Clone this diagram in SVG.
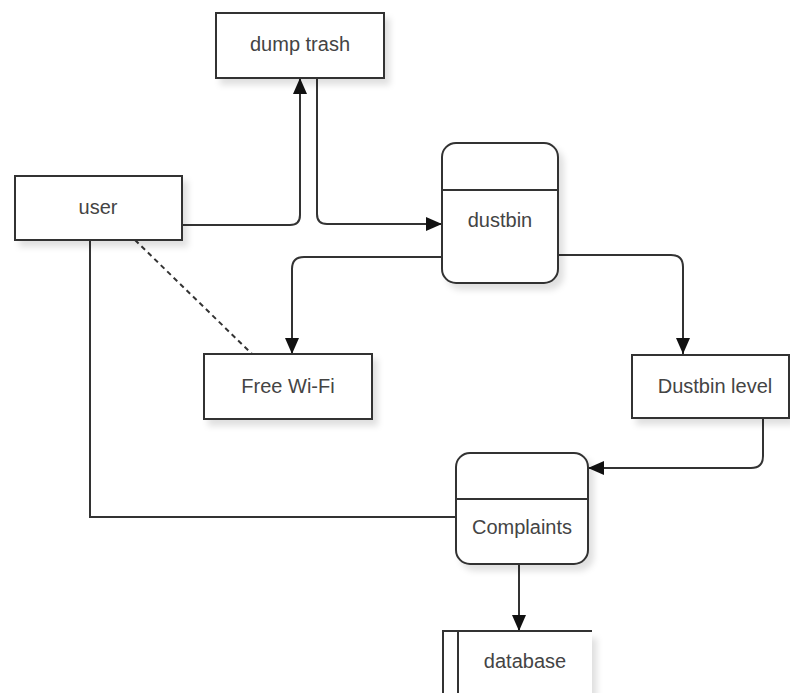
<svg xmlns="http://www.w3.org/2000/svg" width="790" height="693" viewBox="0 0 790 693">
<defs>
<filter id="sh" x="-10%" y="-10%" width="130%" height="140%">
<feDropShadow dx="5" dy="6" stdDeviation="3" flood-color="#000" flood-opacity="0.12"/>
</filter>
<marker id="arrB" viewBox="0 0 16 14" refX="16" refY="7" markerWidth="16" markerHeight="14" markerUnits="userSpaceOnUse" orient="auto">
<path d="M0,0 L16,7 L0,14 z" fill="#111"/>
</marker>
</defs>
<style>
.box{fill:#fff;stroke:#333;stroke-width:2;filter:url(#sh)}
.ln{fill:none;stroke:#333;stroke-width:2}
.conn{fill:none;stroke:#333;stroke-width:2}
.lbl{font-family:"Liberation Sans",Arial,sans-serif;font-size:20px;fill:#444;text-anchor:middle}
</style>
<rect width="790" height="693" fill="#fff"/>
<g id="connectors">
<path class="conn" d="M182,225 H290 Q300,225 300,215 V78" marker-end="url(#arrB)"/>
<path class="conn" d="M317,78 V214 Q317,224 327,224 H442" marker-end="url(#arrB)"/>
<path class="conn" d="M442,257 H304 Q292,257 292,269 V354" marker-end="url(#arrB)"/>
<path class="conn" d="M558,255 H671 Q683,255 683,267 V354" marker-end="url(#arrB)"/>
<path class="conn" d="M763,419 V456 Q763,468 751,468 H588" marker-end="url(#arrB)"/>
<path class="conn" d="M90,233 V517 H456"/>
<path class="conn" d="M135,240 L252,354" stroke-dasharray="5,4"/>
<path class="conn" d="M519,565 V631" marker-end="url(#arrB)"/>
</g>
<g id="dump-trash">
<rect class="box" x="216" y="13" width="168" height="65"/>
<text class="lbl" x="300" y="51">dump trash</text>
</g>
<g id="user">
<rect class="box" x="15" y="176" width="167" height="64"/>
<text class="lbl" x="98" y="214">user</text>
</g>
<g id="dustbin">
<rect class="box" x="442" y="143" width="116" height="140" rx="14"/>
<line class="ln" x1="442" y1="190" x2="558" y2="190"/>
<text class="lbl" x="500" y="227">dustbin</text>
</g>
<g id="free-wifi">
<rect class="box" x="204" y="354" width="168" height="65"/>
<text class="lbl" x="288" y="393">Free Wi-Fi</text>
</g>
<g id="dustbin-level">
<rect class="box" x="632" y="355" width="157" height="63"/>
<text class="lbl" x="715" y="393">Dustbin level</text>
</g>
<g id="complaints">
<rect class="box" x="456" y="453" width="132" height="111" rx="14"/>
<line class="ln" x1="456" y1="499" x2="588" y2="499"/>
<text class="lbl" x="522" y="534">Complaints</text>
</g>
<g id="database">
<rect x="458" y="632" width="134" height="70" fill="#fff" filter="url(#sh)"/>
<path class="ln" d="M592,631 H443 V693 M458,631 V693"/>
<text class="lbl" x="525" y="668">database</text>
</g>
</svg>
